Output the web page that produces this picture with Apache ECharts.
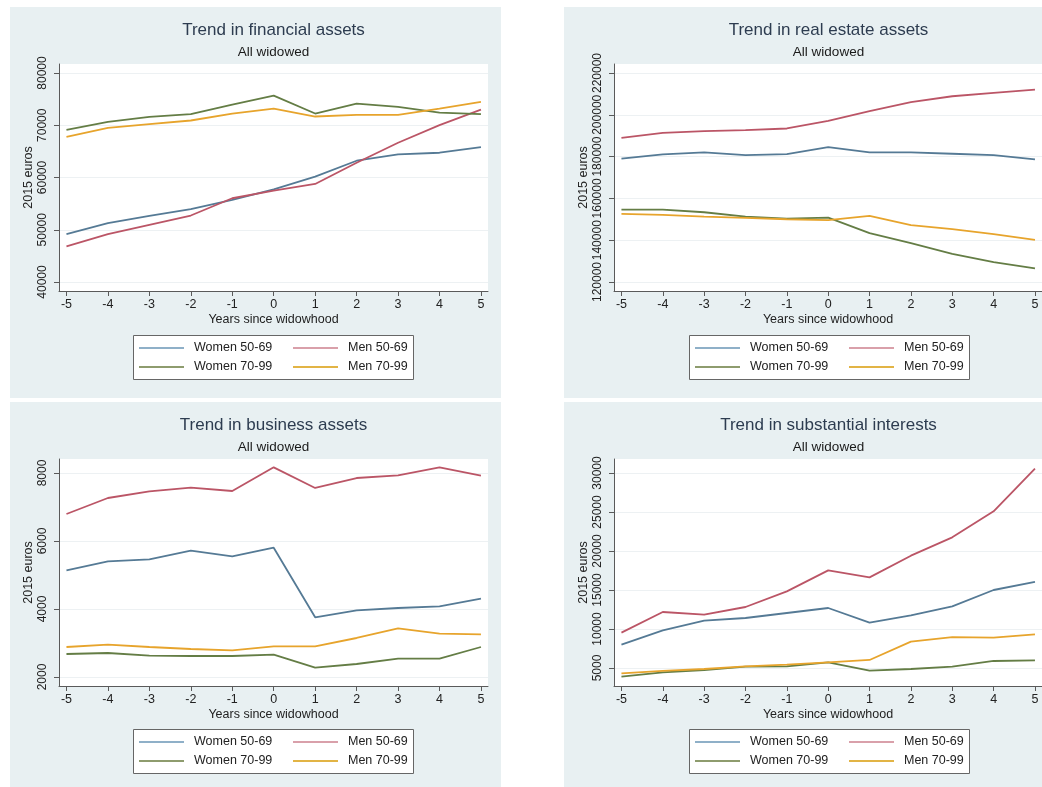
<!DOCTYPE html>
<html>
<head>
<meta charset="utf-8">
<title>Wealth trends around widowhood</title>
<script src="https://cdn.jsdelivr.net/npm/echarts@6/dist/echarts.min.js"></script>
<style>
  html, body { margin: 0; padding: 0; background: #ffffff; }
  #chart { width: 1042px; height: 787px; }
</style>
</head>
<body>
<div id="chart"></div>
<script>
// Years relative to the year of widowhood
const years = [-5, -4, -3, -2, -1, 0, 1, 2, 3, 4, 5];
const groupNames = ['Women 50-69', 'Men 50-69', 'Women 70-99', 'Men 70-99'];

// Financial assets (2015 euros)
const financialWomen5069 = [49160, 51260, 52650, 53930, 55700, 57740, 60160, 63210, 64420, 64740, 65820];
const financialMen5069   = [46800, 49160, 50940, 52720, 56030, 57490, 58760, 62830, 66650, 70020, 73000];
const financialWomen7099 = [69130, 70660, 71610, 72110, 73960, 75680, 72240, 74150, 73510, 72430, 72110];
const financialMen7099   = [67790, 69510, 70210, 70910, 72240, 73200, 71670, 71990, 71990, 73200, 74470];
const financialTicks = [40000, 50000, 60000, 70000, 80000];

// Real estate assets (2015 euros)
const realEstateWomen5069 = [178980, 181050, 182000, 180730, 181210, 184550, 182000, 182000, 181370, 180730, 178670];
const realEstateMen5069   = [189000, 191380, 192180, 192650, 193450, 197110, 201720, 206010, 208870, 210460, 212050];
const realEstateWomen7099 = [154640, 154640, 153370, 151300, 150350, 150830, 143360, 138590, 133510, 129540, 126520];
const realEstateMen7099   = [152590, 152110, 151300, 150670, 150030, 149560, 151620, 147170, 145280, 142890, 140190];
const realEstateTicks = [120000, 140000, 160000, 180000, 200000, 220000];

// Business assets (2015 euros)
const businessWomen5069 = [5137, 5402, 5461, 5716, 5549, 5804, 3755, 3961, 4029, 4078, 4304];
const businessMen5069   = [6794, 7265, 7461, 7569, 7471, 8167, 7559, 7853, 7931, 8167, 7922];
const businessWomen7099 = [2676, 2706, 2627, 2618, 2618, 2657, 2275, 2382, 2539, 2539, 2882];
const businessMen7099   = [2882, 2951, 2882, 2824, 2784, 2902, 2902, 3147, 3431, 3275, 3255];
const businessTicks = [2000, 4000, 6000, 8000];

// Substantial interests (2015 euros)
const substantialWomen5069 = [7990, 9830, 11070, 11410, 12050, 12690, 10810, 11750, 12910, 15000, 16030];
const substantialMen5069   = [9530, 12180, 11840, 12820, 14830, 17520, 16620, 19400, 21750, 25090, 30560];
const substantialWomen7099 = [3890, 4440, 4740, 5170, 5210, 5730, 4660, 4870, 5170, 5900, 5980];
const substantialMen7099   = [4320, 4620, 4870, 5210, 5430, 5730, 6030, 8380, 8970, 8890, 9320];
const substantialTicks = [5000, 10000, 15000, 20000, 25000, 30000];

const xTicks = [-5, -4, -3, -2, -1, 0, 1, 2, 3, 4, 5];

// Line colours and the paler tones used by the legend keys
const lineColors   = ['#557a95', '#bb5566', '#647d45', '#e7a42c'];
const legendColors = ['#8fb0c8', '#d9a0aa', '#8e9c6e', '#e2b445'];

const FONT = "'Liberation Sans', Arial, sans-serif";

// Layout of the four panels
const panels = [
  { title: 'Trend in financial assets', data: [financialWomen5069, financialMen5069, financialWomen7099, financialMen7099],
    ticks: financialTicks, yMin: 38280, yMax: 81720,
    bg: [10, 7, 491, 391], grid: [59, 64, 429, 227], legendBox: [133, 335] },
  { title: 'Trend in real estate assets', data: [realEstateWomen5069, realEstateMen5069, realEstateWomen7099, realEstateMen7099],
    ticks: realEstateTicks, yMin: 115700, yMax: 224300,
    bg: [564, 7, 478, 391], grid: [614, 64, 429, 227], legendBox: [689, 335] },
  { title: 'Trend in business assets', data: [businessWomen5069, businessMen5069, businessWomen7099, businessMen7099],
    ticks: businessTicks, yMin: 1735, yMax: 8412,
    bg: [10, 402, 491, 385], grid: [59, 459, 429, 227], legendBox: [133, 729] },
  { title: 'Trend in substantial interests', data: [substantialWomen5069, substantialMen5069, substantialWomen7099, substantialMen7099],
    ticks: substantialTicks, yMin: 2692, yMax: 31795,
    bg: [564, 402, 478, 385], grid: [614, 459, 429, 227], legendBox: [689, 729] }
];

const grids = [], xAxes = [], yAxes = [], series = [], titles = [], legends = [], graphics = [];

panels.forEach((p, i) => {
  const [gl, gt, gw, gh] = p.grid;
  const centerX = gl + gw / 2;

  // panel background
  graphics.push({
    type: 'rect', silent: true, z: -10,
    shape: { x: p.bg[0], y: p.bg[1], width: p.bg[2], height: p.bg[3] },
    style: { fill: '#e8f0f2' }
  });
  // legend frame
  graphics.push({
    type: 'rect', silent: true, z: 5,
    shape: { x: p.legendBox[0] + 0.5, y: p.legendBox[1] + 0.5, width: 280, height: 44 },
    style: { fill: '#ffffff', stroke: '#666666', lineWidth: 1 }
  });

  grids.push({
    left: gl, top: gt, width: gw, height: gh,
    show: true, backgroundColor: '#ffffff', borderWidth: 0
  });

  xAxes.push({
    type: 'value', gridIndex: i, min: -5.18, max: 5.17,
    name: 'Years since widowhood', nameLocation: 'middle', nameGap: 22,
    nameTextStyle: { fontFamily: FONT, fontSize: 12.5, color: '#222' },
    axisLine: { show: true, onZero: false, lineStyle: { color: '#5a5a5a', width: 1 } },
    axisTick: { show: true, length: 5, customValues: xTicks, lineStyle: { color: '#5a5a5a' } },
    axisLabel: { customValues: xTicks, margin: 7, fontFamily: FONT, fontSize: 12.5, color: '#222',
      formatter: v => String(v) },
    splitLine: { show: false }
  });

  yAxes.push({
    type: 'value', gridIndex: i, min: p.yMin, max: p.yMax,
    name: '2015 euros', nameLocation: 'middle', nameGap: 24, nameRotate: 90,
    nameTextStyle: { fontFamily: FONT, fontSize: 12.5, color: '#222' },
    axisLine: { show: true, onZero: false, lineStyle: { color: '#5a5a5a', width: 1 } },
    axisTick: { show: true, length: 5, customValues: p.ticks, lineStyle: { color: '#5a5a5a' } },
    axisLabel: { customValues: p.ticks, rotate: 90, margin: 10, fontFamily: FONT, fontSize: 12, color: '#222',
      hideOverlap: false, showMinLabel: true, showMaxLabel: true, formatter: v => String(v) },
    splitLine: { show: true, lineStyle: { color: '#edf1f3', width: 1 } }
  });

  p.data.forEach((vals, k) => {
    series.push({
      name: groupNames[k], type: 'line', xAxisIndex: i, yAxisIndex: i,
      data: years.map((yr, j) => [yr, vals[j]]),
      symbol: 'none', silent: true, animation: false,
      lineStyle: { color: lineColors[k], width: 1.8 },
      itemStyle: { color: lineColors[k] }
    });
  });

  titles.push({
    text: p.title, subtext: 'All widowed',
    left: centerX, top: p.bg[1] + 13, textAlign: 'center', padding: 0, itemGap: 4,
    textStyle: { fontFamily: FONT, fontSize: 17, fontWeight: 'normal', color: '#2d3c50', lineHeight: 20 },
    subtextStyle: { fontFamily: FONT, fontSize: 13.5, color: '#1a1a1a', lineHeight: 16 }
  });

  // two legend columns inside the frame; keys are plain line segments
  const legendText = { fontFamily: FONT, fontSize: 12.5, color: '#222', padding: [0, 0, 0, 5], lineHeight: 14 };
  [[0, 2], [1, 3]].forEach((cols, c) => {
    legends.push({
      orient: 'vertical', left: p.legendBox[0] + 6 + c * 154, top: p.legendBox[1] + 6,
      padding: 0, itemGap: 5, itemWidth: 45, itemHeight: 2, icon: 'rect', selectedMode: false, z: 6,
      textStyle: legendText,
      data: cols.map(k => ({ name: groupNames[k],
        itemStyle: { color: legendColors[k], borderWidth: 0 } }))
    });
  });
});

const chart = echarts.init(document.getElementById('chart'), null, { renderer: 'canvas' });
chart.setOption({
  animation: false,
  backgroundColor: '#ffffff',
  title: titles,
  legend: legends,
  grid: grids,
  xAxis: xAxes,
  yAxis: yAxes,
  series: series,
  graphic: graphics
});
</script>
</body>
</html>
